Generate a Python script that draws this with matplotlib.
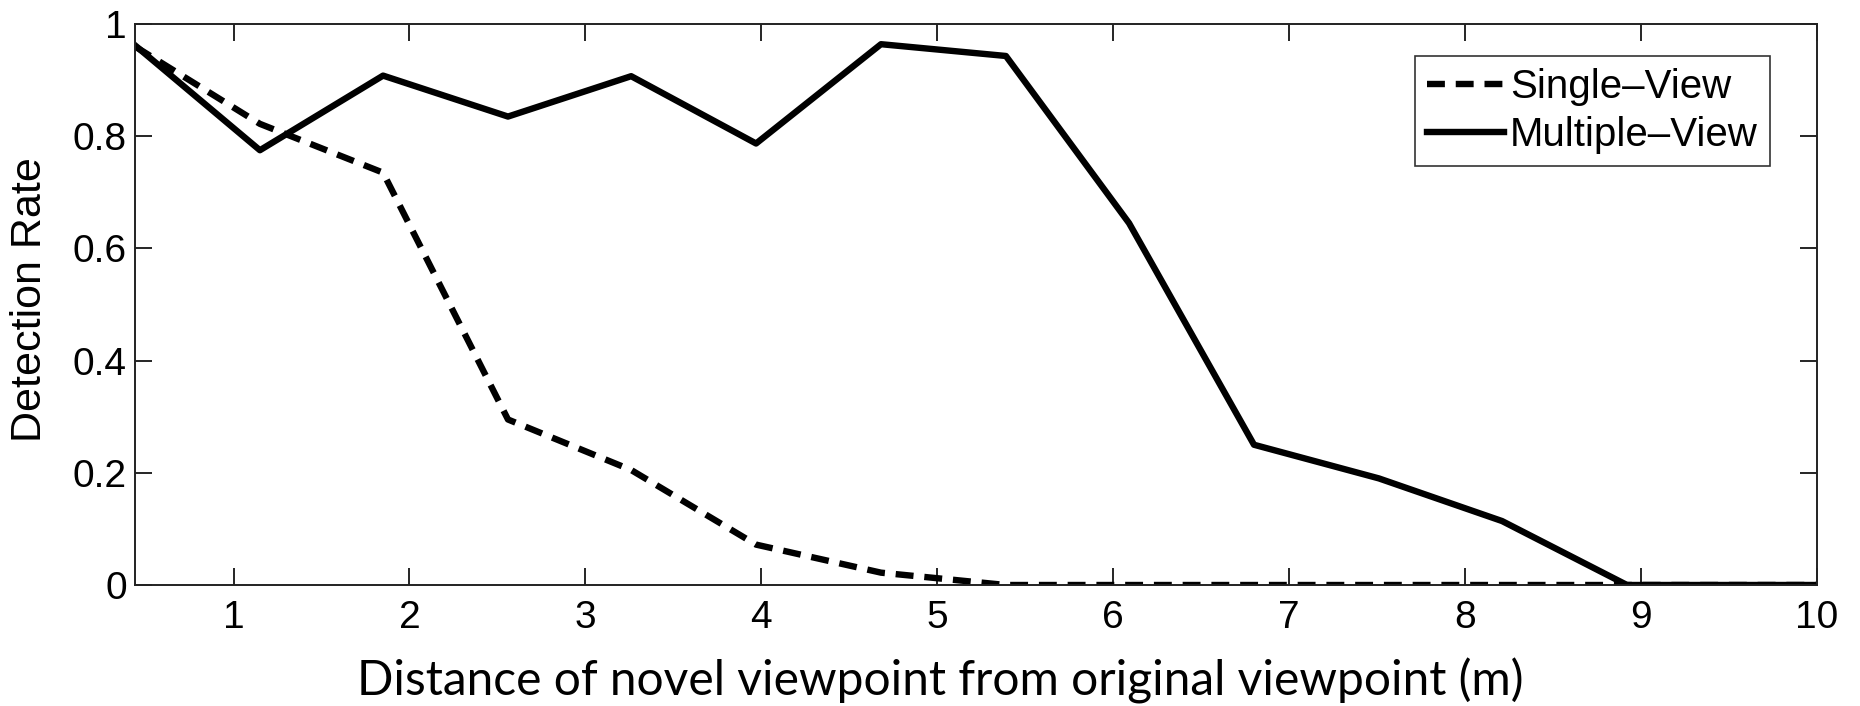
import matplotlib
matplotlib.use("Agg")
import matplotlib.pyplot as plt

# Data
distance = [0.44, 1.15, 1.85, 2.56, 3.26, 3.97, 4.68, 5.39, 6.09, 6.80, 7.51, 8.21, 8.92, 9.63, 10.34]
single_view = [0.96, 0.822, 0.735, 0.295, 0.205, 0.072, 0.022, 0.0, 0.0, 0.0, 0.0, 0.0, 0.0, 0.0, 0.0]
multiple_view = [0.962, 0.775, 0.908, 0.835, 0.907, 0.787, 0.964, 0.943, 0.645, 0.25, 0.19, 0.114, 0.0, 0.0, 0.0]
x_ticks = [1, 2, 3, 4, 5, 6, 7, 8, 9, 10]
y_ticks = [0, 0.2, 0.4, 0.6, 0.8, 1.0]
y_tick_labels = ["0", "0.2", "0.4", "0.6", "0.8", "1"]
series_labels = ["Single\u2013View", "Multiple\u2013View"]
x_label = "Distance of novel viewpoint from original viewpoint (m)"
y_label = "Detection Rate"

W, H = 1860, 706
fig = plt.figure(figsize=(W / 100, H / 100), dpi=100)
ax = fig.add_axes([135 / W, 1 - 585 / H, (1817 - 135) / W, (585 - 24) / H])

tick_font = ["Liberation Sans", "DejaVu Sans"]

lw = 4.6
ax.plot(distance, single_view, color="black", lw=lw, linestyle=(0, (2.8, 1.7)),
        label=series_labels[0], dash_capstyle="butt")
ax.plot(distance, multiple_view, color="black", lw=lw, linestyle="-",
        label=series_labels[1])

ax.set_xlim(0.44, 10)
ax.set_ylim(0, 1)
ax.set_xticks(x_ticks)
ax.set_yticks(y_ticks)
ax.set_yticklabels(y_tick_labels)
ax.tick_params(direction="in", length=12, width=1.2, top=True, right=True,
               labelsize=28, pad=6)
ax.tick_params(axis="x", pad=11)
for lab in ax.get_xticklabels() + ax.get_yticklabels():
    lab.set_family(tick_font)
for sp in ax.spines.values():
    sp.set_linewidth(1.4)
    sp.set_color("#222222")

leg = ax.legend(loc="upper right",
                bbox_to_anchor=(1 - (1817 - 1770) / (1817 - 135), 1 - (56 - 24) / (585 - 24)),
                prop={"family": tick_font, "size": 29}, frameon=True, fancybox=False,
                edgecolor="black", handlelength=1.9, handletextpad=0.15, borderpad=0.3,
                labelspacing=0.25, borderaxespad=0)
leg.get_frame().set_linewidth(1.2)

fig.text(30 / W, 1 - 300 / H, y_label, rotation=90, ha="center", va="center",
         fontsize=31, family=tick_font)
fig.text(940 / W, 1 - 695 / H, x_label, ha="center", va="baseline",
         fontsize=34.5, family=["Lato", "DejaVu Sans"])

fig.savefig("out.png", dpi=100)
